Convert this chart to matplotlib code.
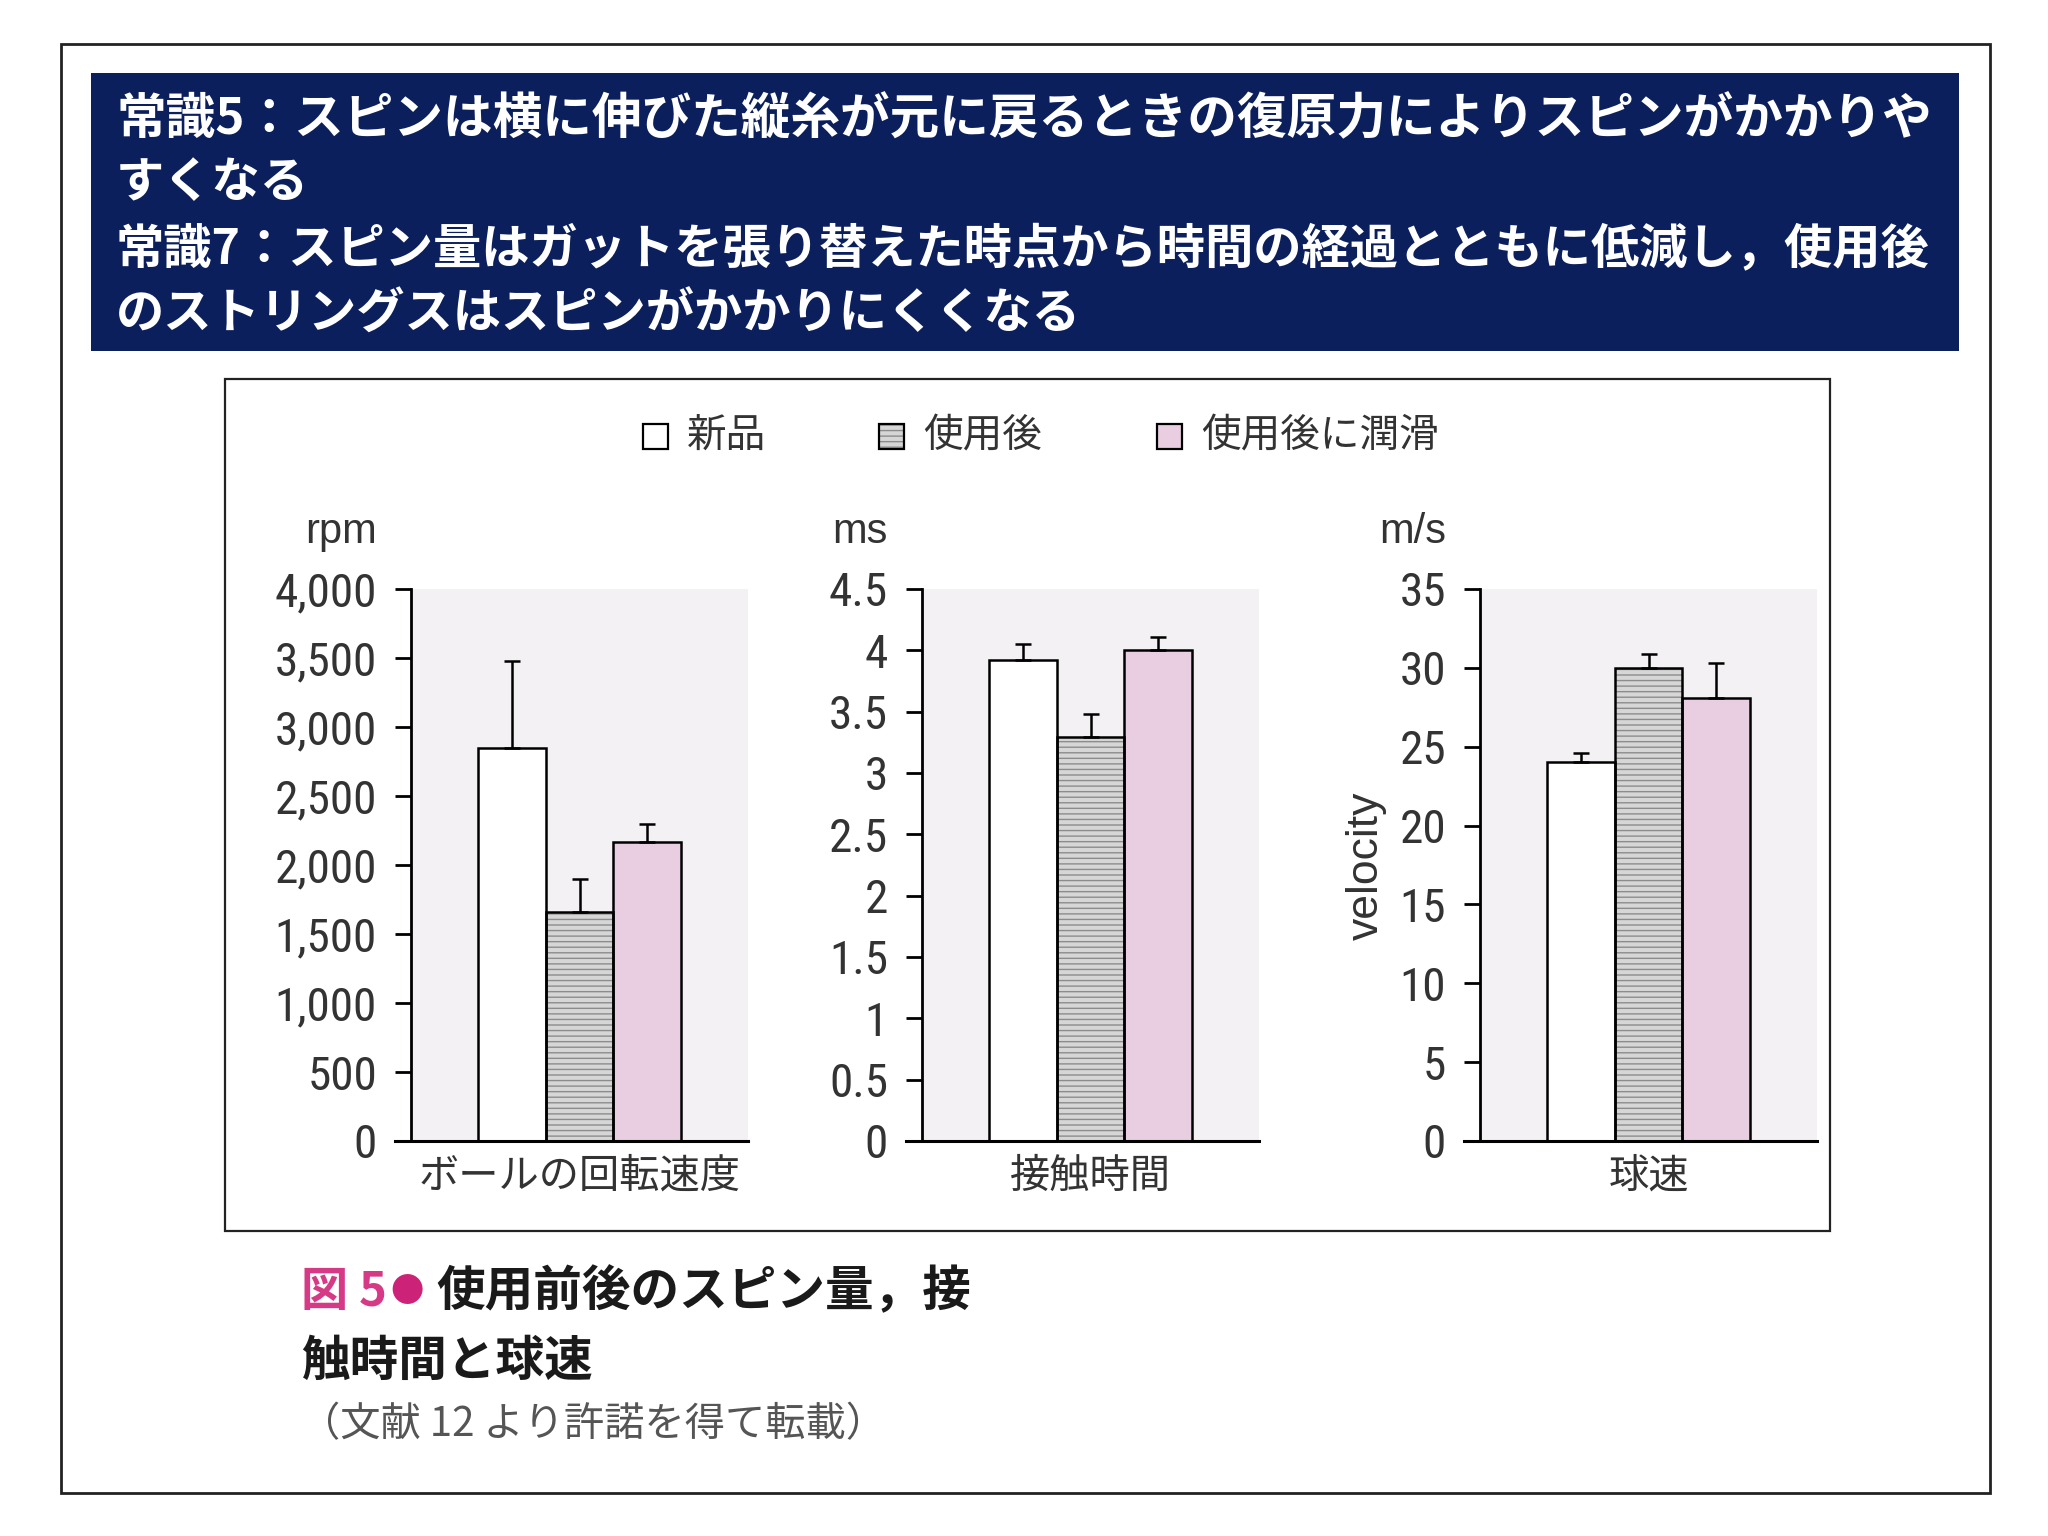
import matplotlib
matplotlib.use("Agg")
import matplotlib.pyplot as plt
from matplotlib import font_manager
from matplotlib.patches import Rectangle

plt.rcParams['font.family'] = ['Noto Sans CJK JP', 'DejaVu Sans']

# data
groups = ["新品", "使用後", "使用後に潤滑"]
panel_names = ["ボールの回転速度", "接触時間", "球速"]
units = ["rpm", "ms", "m/s"]

spin_mean = [2850, 1660, 2170]
spin_err = [630, 236, 130]
contact_mean = [3.92, 3.29, 4.00]
contact_err = [0.13, 0.19, 0.11]
speed_mean = [24.0, 30.0, 28.1]
speed_err = [0.6, 0.85, 2.2]

spin_ticks = [0, 500, 1000, 1500, 2000, 2500, 3000, 3500, 4000]
contact_ticks = [0, 0.5, 1, 1.5, 2, 2.5, 3, 3.5, 4, 4.5]
speed_ticks = [0, 5, 10, 15, 20, 25, 30, 35]

header_lines = [
    "常識5：スピンは横に伸びた縦糸が元に戻るときの復原力によりスピンがかかりや",
    "すくなる",
    "常識7：スピン量はガットを張り替えた時点から時間の経過とともに低減し，使用後",
    "のストリングスはスピンがかかりにくくなる",
]

bar_colors = ["white", "#d6d6d6", "#e9cde0"]
plot_bg = "#f3f1f3"
navy = "#0b1f5c"
text_gray = "#333333"

names = {f.name for f in font_manager.fontManager.ttflist}
narrow = "Liberation Sans"
for cand in ["Liberation Sans Narrow", "Roboto Condensed", "Open Sans Condensed", "Arial Narrow"]:
    if cand in names:
        narrow = cand
        break
tick_size = 34 if narrow != "Liberation Sans" else 31

W, H = 2048, 1536
fig = plt.figure(figsize=(W / 100, H / 100), dpi=100)

# full-figure axes in pixel coordinates for frames and free text
bg = fig.add_axes([0, 0, 1, 1], zorder=0)
bg.set_xlim(0, W)
bg.set_ylim(H, 0)
bg.axis("off")

bg.add_patch(Rectangle((61, 44), 1929, 1449, fill=False, lw=2, ec="#222222"))
bg.add_patch(Rectangle((91, 73), 1868, 278, fc=navy, ec="none"))
bg.add_patch(Rectangle((225, 379), 1605, 852, fill=False, lw=1.6, ec="#222222"))

# header: the two long lines are stretched to the same right edge
fig.canvas.draw()
renderer = fig.canvas.get_renderer()
probe = bg.text(0, 0, header_lines[2], fontsize=20, fontweight="bold")
base = 20 * (1930 - 116) / probe.get_window_extent(renderer).width
probe.remove()
for k, (line, y) in enumerate(zip(header_lines, [120, 183, 249, 314])):
    size = base
    if k == 0:
        p = bg.text(0, 0, line, fontsize=20, fontweight="bold")
        size = 20 * (1930 - 116) / p.get_window_extent(renderer).width
        p.remove()
    bg.text(116, y, line, fontsize=size, fontweight="bold", color="white",
            va="center", ha="left")

# legend
legend_x = [643, 879, 1157]
for gx, name, col in zip(legend_x, groups, bar_colors):
    if col == "#d6d6d6":
        bg.add_patch(Rectangle((gx, 424), 25, 25, fc=col, ec="#8c8c8c", lw=0, hatch="---"))
    else:
        bg.add_patch(Rectangle((gx, 424), 25, 25, fc=col, ec="none"))
    bg.add_patch(Rectangle((gx, 424), 25, 25, fill=False, ec="black", lw=1.6))
    bg.text(gx + 44, 436, name, fontsize=28.5, color=text_gray, va="center", ha="left")

# panels
panels = [
    (411, spin_mean, spin_err, spin_ticks, [f"{t:,}" for t in spin_ticks]),
    (922, contact_mean, contact_err, contact_ticks, [f"{t:g}" for t in contact_ticks]),
    (1480, speed_mean, speed_err, speed_ticks, [f"{t:g}" for t in speed_ticks]),
]
ax_w, ax_top, ax_bot = 337, 589, 1141
x = [-1, 0, 1]
for i, (left, mean, err, ticks, tlabels) in enumerate(panels):
    ax = fig.add_axes([left / W, 1 - ax_bot / H, ax_w / W, (ax_bot - ax_top) / H], zorder=1)
    ax.set_facecolor(plot_bg)
    ax.set_xlim(-2.5, 2.5)
    ax.set_ylim(0, ticks[-1])
    for xi, m, col in zip(x, mean, bar_colors):
        if col == "#d6d6d6":
            ax.bar(xi, m, width=1, color=col, edgecolor="#8c8c8c", hatch="---", linewidth=0, zorder=2)
        else:
            ax.bar(xi, m, width=1, color=col, linewidth=0, zorder=2)
        ax.bar(xi, m, width=1, fill=False, edgecolor="black", linewidth=1.8, zorder=3)
    ax.errorbar(x, mean, yerr=[[0, 0, 0], err], fmt="none", ecolor="black",
                elinewidth=1.8, capsize=6, capthick=1.8, zorder=4)
    for s in ["top", "right", "bottom"]:
        ax.spines[s].set_visible(False)
    ax.spines["left"].set_linewidth(2)
    ax.set_xticks([])
    ax.set_yticks(ticks)
    ax.set_yticklabels(tlabels, fontfamily=narrow, fontsize=tick_size, color=text_gray)
    ax.tick_params(axis="y", length=11.5, width=2, pad=13)
    ax.plot([-16 / ax_w, 1], [0, 0], transform=ax.transAxes, clip_on=False,
            color="black", lw=2.2, zorder=5)
    cx = left + ax_w / 2
    bg.text(cx, 1156, panel_names[i], fontsize=29, color=text_gray, ha="center", va="top")
    bg.text(left - 34, 543, units[i], fontfamily="Liberation Sans", fontsize=30,
            color=text_gray, ha="right", va="baseline")

bg.text(1366, 866, "velocity", fontfamily="Liberation Sans", fontsize=32, color=text_gray,
        rotation=90, ha="center", va="center")

# caption
bg.text(301, 1292, "図 5", fontsize=34, fontweight="bold", color="#d63a86", ha="left", va="center")
bg.text(390, 1292, "●", fontsize=24, color="#cc2277", ha="left", va="center")
bg.text(436, 1292, "使用前後のスピン量，接", fontsize=35, fontweight="bold", color="#1a1a1a",
        ha="left", va="center")
bg.text(301, 1361, "触時間と球速", fontsize=35, fontweight="bold", color="#1a1a1a",
        ha="left", va="center")
bg.text(300, 1425, "（文献 12 より許諾を得て転載）", fontsize=29, color="#555555",
        ha="left", va="center")

fig.savefig("out.png", dpi=100, facecolor="white")
